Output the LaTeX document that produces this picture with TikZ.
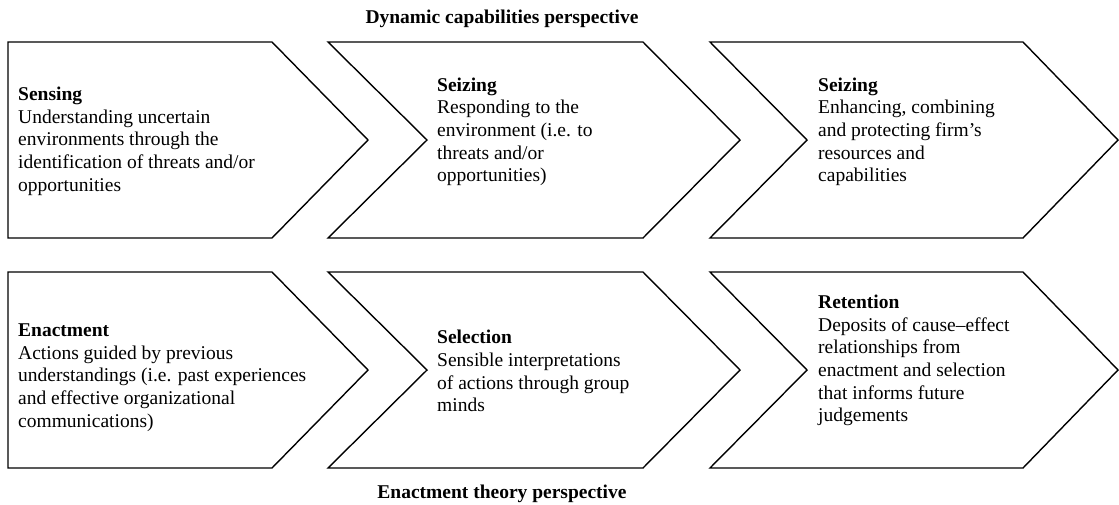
\documentclass[tikz,border=0pt]{standalone}
\usepackage{fontspec}
\setmainfont{Liberation Serif}
\begin{document}
\begin{tikzpicture}[x=1pt,y=-1pt,
  shape line/.style={draw=black,line width=1.4pt,line join=miter},
  body/.style={anchor=base west,align=left,inner sep=0pt,font=\fontsize{19.5}{22.6}\selectfont},
  ttl/.style={anchor=base,inner sep=0pt,font=\fontsize{19.5}{22}\selectfont\bfseries}]
\useasboundingbox (0,0) rectangle (1119,504);
% row 1
\draw[shape line] (8,42) -- (272,42) -- (368,140) -- (272,238) -- (8,238) -- cycle;
\draw[shape line] (328,42) -- (643,42) -- (740,140) -- (643,238) -- (328,238) -- (427,140) -- cycle;
\draw[shape line] (710,42) -- (1023,42) -- (1118,140) -- (1023,238) -- (710,238) -- (807,140) -- cycle;
% row 2
\draw[shape line] (8,272) -- (272,272) -- (368,370) -- (272,468) -- (8,468) -- cycle;
\draw[shape line] (328,272) -- (643,272) -- (740,370) -- (643,468) -- (328,468) -- (427,370) -- cycle;
\draw[shape line] (710,272) -- (1023,272) -- (1118,370) -- (1023,468) -- (710,468) -- (807,370) -- cycle;
% titles
\node[ttl] (t1) at (502,23) {Dynamic capabilities perspective};
\node[ttl] (t2) at (502,498) {Enactment theory perspective};
% texts (anchored at the baseline of the last line)
\node[body] (a1) at (18,191) {\textbf{Sensing}\\Understanding uncertain\\environments through the\\identification of threats and/or\\opportunities};
\node[body] (a2) at (437,181.7) {\textbf{Seizing}\\Responding to the\\environment (i.e. to\\threats and/or\\opportunities)};
\node[body] (a3) at (818,181.7) {\textbf{Seizing}\\Enhancing, combining\\and protecting firm’s\\resources and\\capabilities};
\node[body] (b1) at (18,427) {\textbf{Enactment}\\Actions guided by previous\\understandings (i.e. past experiences\\and effective organizational\\communications)};
\node[body] (b2) at (437,411.7) {\textbf{Selection}\\Sensible interpretations\\of actions through group\\minds};
\node[body] (b3) at (818,421.7) {\textbf{Retention}\\Deposits of cause\textendash effect\\relationships from\\enactment and selection\\that informs future\\judgements};
\end{tikzpicture}
\end{document}
